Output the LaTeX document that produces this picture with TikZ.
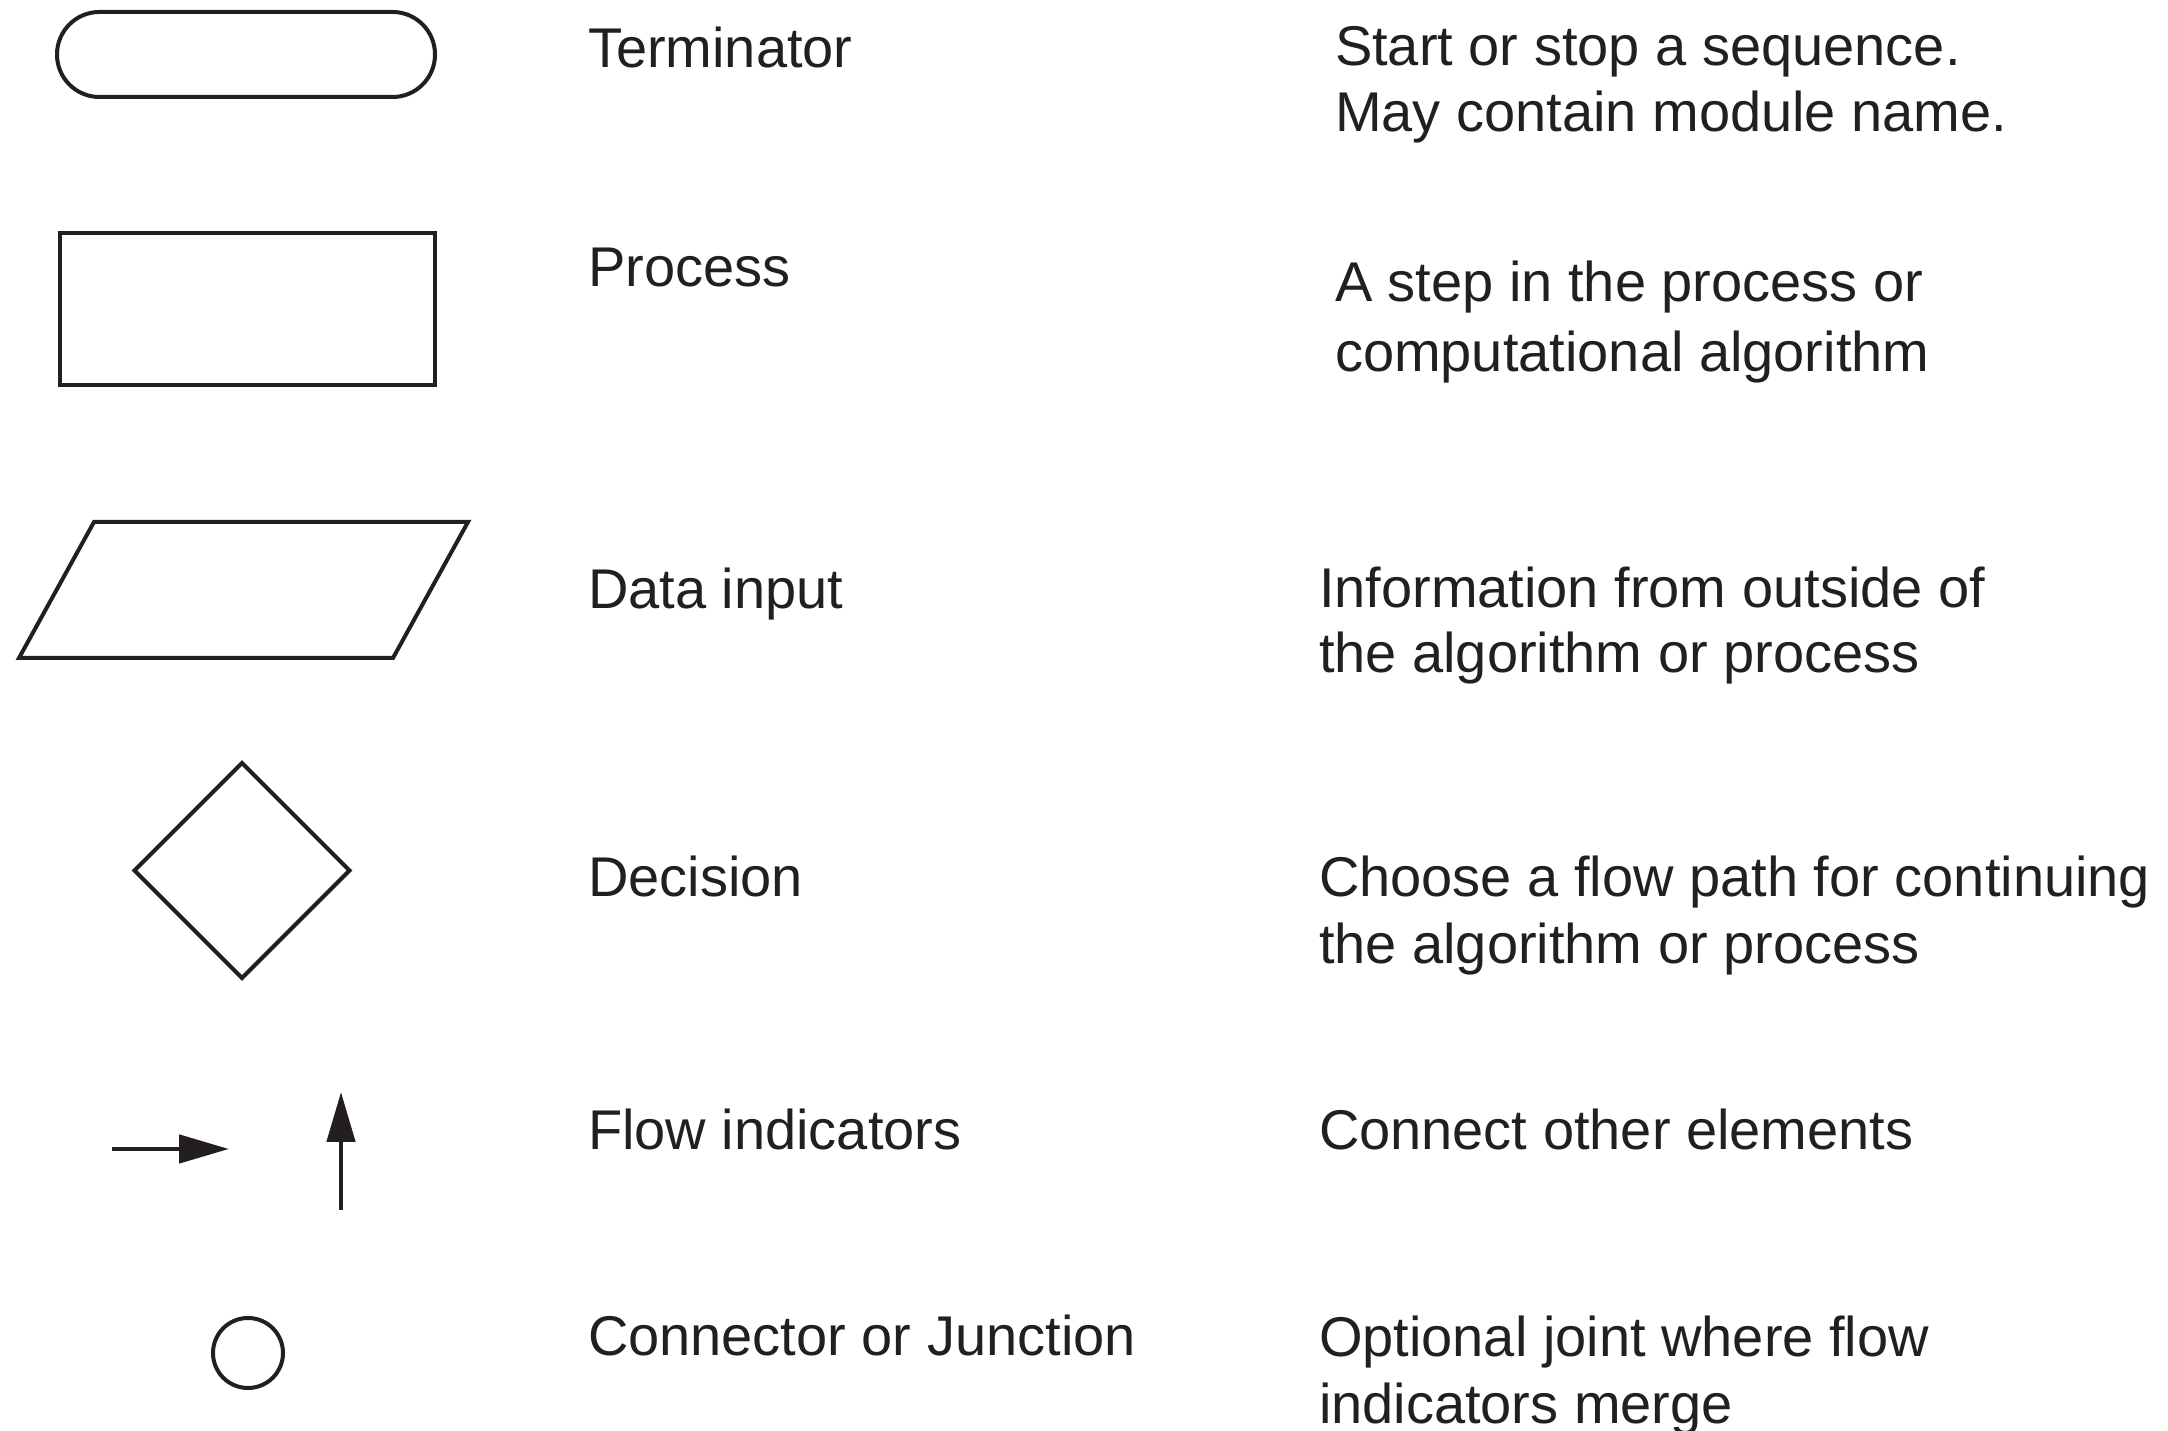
\documentclass[tikz,border=0pt]{standalone}
\usepackage{fontspec}
\setmainfont{Liberation Sans}
\usetikzlibrary{arrows.meta,shapes.geometric}
\definecolor{ink}{HTML}{231F20}
\begin{document}
\begin{tikzpicture}[x=0.25pt,y=-0.25pt,
  sym/.style={draw=ink,line width=1pt,inner sep=0pt,outer sep=0pt},
  lbl/.style={anchor=base west,inner sep=0pt,outer sep=0pt,font=\fontsize{14}{16.75}\selectfont,text=ink},
  flow/.style={draw=ink,line width=1.2pt,-{Triangle[length=12.5pt,width=7pt]}}]
\useasboundingbox (0,0) rectangle (2168,1431);
% symbols
\node[sym,rectangle,rounded corners=10.6pt,minimum width=94.5pt,minimum height=21.25pt] (term) at (246,54.5) {};
\node[sym,rectangle,minimum width=93.75pt,minimum height=38pt] (proc) at (247.5,309) {};
\draw[sym,line join=miter] (94,522) coordinate (d1) -- (468,522) coordinate (d2) -- (393,658) coordinate (d3) -- (19,658) coordinate (d4) -- cycle;
\node[sym,diamond,minimum width=53.75pt,minimum height=53.75pt] (dec) at (242,870.5) {};
\coordinate (h1) at (112,1149);
\coordinate (h2) at (229,1149);
\draw[flow] (h1) -- (h2);
\coordinate (v1) at (341,1210);
\coordinate (v2) at (341,1092);
\draw[flow] (v1) -- (v2);
\node[sym,circle,minimum size=17.5pt] (junc) at (248,1353) {};
% labels
\node[lbl] (l1) at (588,68) {Terminator};
\node[lbl] (l2) at (588,287) {Process};
\node[lbl] (l3) at (588,609) {Data input};
\node[lbl] (l4) at (588,897) {Decision};
\node[lbl] (l5) at (588,1150) {Flow indicators};
\node[lbl] (l6) at (588,1356) {Connector or Junction};
% descriptions
\node[lbl] (t1a) at (1335,66) {Start or stop a sequence.};
\node[lbl] (t1b) at (1335,132) {May contain module name.};
\node[lbl] (t2a) at (1335,302) {A step in the process or};
\node[lbl] (t2b) at (1335,372) {computational algorithm};
\node[lbl] (t3a) at (1319,608) {Information from outside of};
\node[lbl] (t3b) at (1319,673) {the algorithm or process};
\node[lbl] (t4a) at (1319,897) {Choose a flow path for continuing};
\node[lbl] (t4b) at (1319,964) {the algorithm or process};
\node[lbl] (t5) at (1319,1150) {Connect other elements};
\node[lbl] (t6a) at (1319,1357) {Optional joint where flow};
\node[lbl] (t6b) at (1319,1424) {indicators merge};
\end{tikzpicture}
\end{document}
